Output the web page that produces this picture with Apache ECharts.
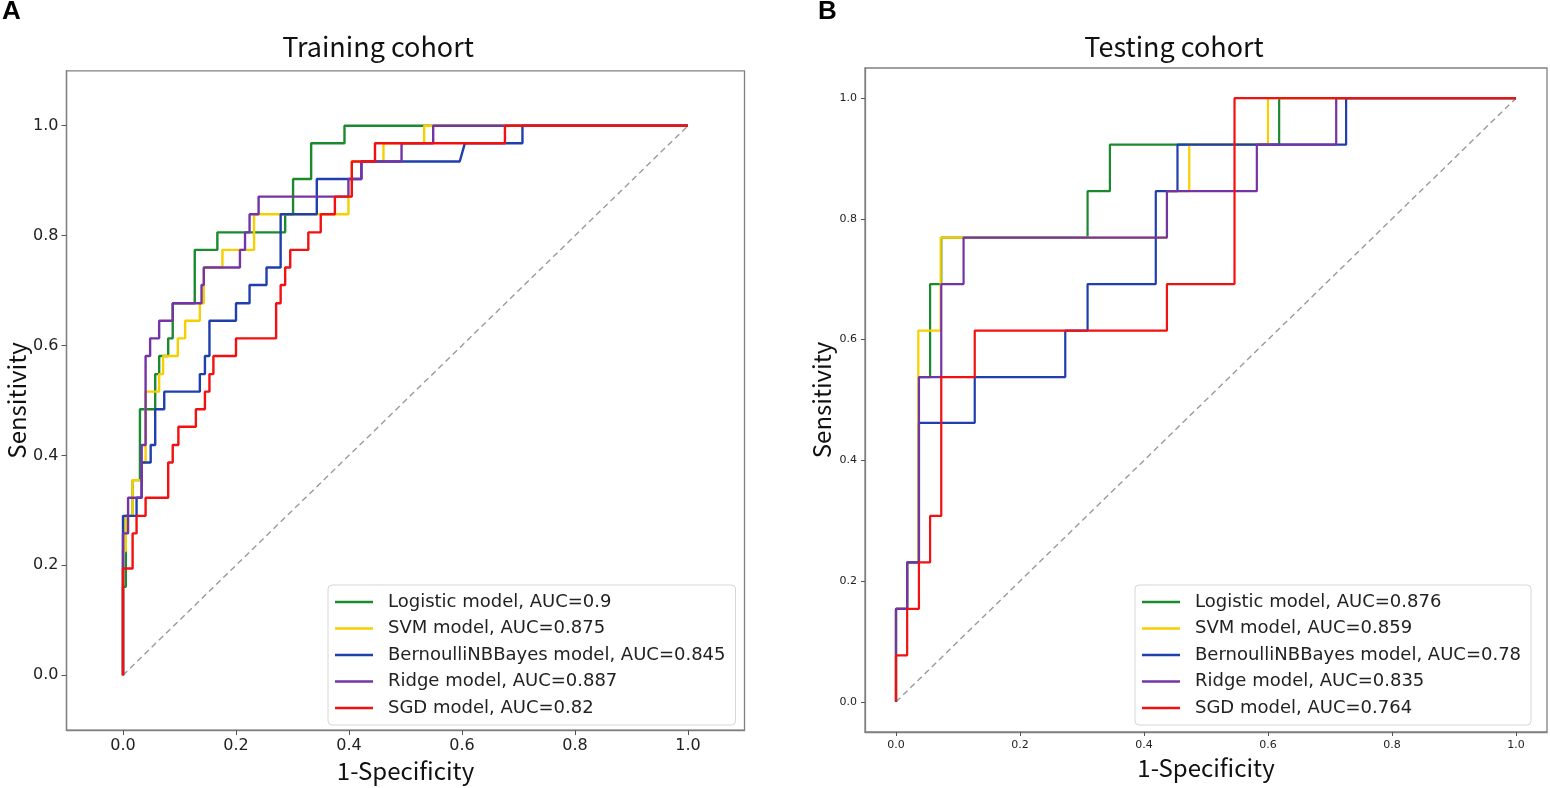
<!DOCTYPE html>
<html><head><meta charset="utf-8">
<script src="https://cdn.jsdelivr.net/npm/echarts@6/dist/echarts.min.js"></script>
<style>html,body{margin:0;padding:0;background:#fff}#c{width:1550px;height:788px}</style>
</head><body><div id="c"></div>
<script>
// ---------- data ----------
const tickValues = [0, 0.2, 0.4, 0.6, 0.8, 1.0];

const trainNames = ['Logistic model, AUC=0.9', 'SVM model, AUC=0.875', 'BernoulliNBBayes model, AUC=0.845', 'Ridge model, AUC=0.887', 'SGD model, AUC=0.82'];
const testNames = ['Logistic model, AUC=0.876', 'SVM model, AUC=0.859', 'BernoulliNBBayes model, AUC=0.78', 'Ridge model, AUC=0.835', 'SGD model, AUC=0.764'];

// Training cohort ROC vertices (1-specificity, sensitivity)
const trainLogisticFpr = [0,0,0.005,0.005,0.017,0.017,0.030,0.030,0.057,0.057,0.064,0.064,0.080,0.080,0.088,0.088,0.127,0.127,0.167,0.167,0.287,0.287,0.301,0.301,0.333,0.333,0.392,0.392,1.0];
const trainLogisticTpr = [0,0.161,0.161,0.290,0.290,0.355,0.355,0.484,0.484,0.548,0.548,0.581,0.581,0.613,0.613,0.677,0.677,0.774,0.774,0.806,0.806,0.839,0.839,0.903,0.903,0.968,0.968,1.0,1.0];

const trainSvmFpr = [0,0,0.005,0.005,0.017,0.017,0.033,0.033,0.040,0.040,0.064,0.064,0.071,0.071,0.097,0.097,0.110,0.110,0.136,0.136,0.143,0.143,0.176,0.176,0.232,0.232,0.399,0.399,0.405,0.405,0.461,0.461,0.533,0.533,1.0];
const trainSvmTpr = [0,0.226,0.226,0.290,0.290,0.355,0.355,0.387,0.387,0.516,0.516,0.548,0.548,0.581,0.581,0.613,0.613,0.645,0.645,0.677,0.677,0.742,0.742,0.774,0.774,0.839,0.839,0.871,0.871,0.935,0.935,0.968,0.968,1.0,1.0];

const trainBayesFpr = [0,0,0.024,0.024,0.033,0.033,0.049,0.049,0.057,0.057,0.073,0.073,0.136,0.136,0.145,0.145,0.153,0.153,0.200,0.200,0.224,0.224,0.254,0.254,0.279,0.279,0.343,0.343,0.422,0.422,0.596,0.605,0.707,0.707,1.0];
const trainBayesTpr = [0,0.290,0.290,0.323,0.323,0.387,0.387,0.419,0.419,0.484,0.484,0.516,0.516,0.548,0.548,0.581,0.581,0.645,0.645,0.677,0.677,0.710,0.710,0.742,0.742,0.839,0.839,0.903,0.903,0.935,0.935,0.968,0.968,1.0,1.0];

const trainRidgeFpr = [0,0,0.009,0.009,0.033,0.033,0.040,0.040,0.048,0.048,0.064,0.064,0.088,0.088,0.139,0.139,0.143,0.143,0.207,0.207,0.216,0.216,0.224,0.224,0.240,0.240,0.399,0.399,0.422,0.422,0.493,0.493,0.549,0.549,1.0];
const trainRidgeTpr = [0,0.258,0.258,0.323,0.323,0.419,0.419,0.581,0.581,0.613,0.613,0.645,0.645,0.677,0.677,0.710,0.710,0.742,0.742,0.774,0.774,0.806,0.806,0.839,0.839,0.871,0.871,0.903,0.903,0.935,0.935,0.968,0.968,1.0,1.0];

const trainSgdFpr = [0,0,0.017,0.017,0.024,0.024,0.040,0.040,0.080,0.080,0.088,0.088,0.098,0.098,0.129,0.129,0.145,0.145,0.153,0.153,0.160,0.160,0.200,0.200,0.271,0.271,0.279,0.279,0.287,0.287,0.296,0.296,0.328,0.328,0.350,0.350,0.375,0.375,0.405,0.405,0.446,0.446,0.676,0.676,1.0];
const trainSgdTpr = [0,0.194,0.194,0.258,0.258,0.290,0.290,0.323,0.323,0.387,0.387,0.419,0.419,0.452,0.452,0.484,0.484,0.516,0.516,0.548,0.548,0.581,0.581,0.613,0.613,0.677,0.677,0.710,0.710,0.742,0.742,0.774,0.774,0.806,0.806,0.839,0.839,0.871,0.871,0.935,0.935,0.968,0.968,1.0,1.0];

// Testing cohort ROC vertices
const testLogisticFpr = [0,0,0.018,0.018,0.037,0.037,0.055,0.055,0.073,0.073,0.309,0.309,0.345,0.345,0.618,0.618,1.0];
const testLogisticTpr = [0,0.154,0.154,0.231,0.231,0.538,0.538,0.692,0.692,0.769,0.769,0.846,0.846,0.923,0.923,1.0,1.0];

const testSvmFpr = [0,0,0.018,0.018,0.036,0.036,0.072,0.072,0.437,0.437,0.473,0.473,0.600,0.600,1.0];
const testSvmTpr = [0,0.154,0.154,0.231,0.231,0.615,0.615,0.769,0.769,0.846,0.846,0.923,0.923,1.0,1.0];

const testBayesFpr = [0,0,0.018,0.018,0.037,0.037,0.127,0.127,0.273,0.273,0.309,0.309,0.419,0.419,0.454,0.454,0.726,0.726,1.0];
const testBayesTpr = [0,0.154,0.154,0.231,0.231,0.462,0.462,0.538,0.538,0.615,0.615,0.692,0.692,0.846,0.846,0.923,0.923,1.0,1.0];

const testRidgeFpr = [0,0,0.018,0.018,0.037,0.037,0.073,0.073,0.109,0.109,0.437,0.437,0.582,0.582,0.710,0.710,1.0];
const testRidgeTpr = [0,0.154,0.154,0.231,0.231,0.538,0.538,0.692,0.692,0.769,0.769,0.846,0.846,0.923,0.923,1.0,1.0];

const testSgdFpr = [0,0,0.018,0.018,0.037,0.037,0.055,0.055,0.073,0.073,0.127,0.127,0.437,0.437,0.546,0.546,1.0];
const testSgdTpr = [0,0.077,0.077,0.154,0.154,0.231,0.231,0.308,0.308,0.538,0.538,0.615,0.615,0.692,0.692,1.0,1.0];

const chanceLine = [[0, 0], [1, 1]];

// ---------- style ----------
const modelColors = ['#1b8a2f', '#f7cf00', '#1f3fad', '#7434a6', '#f21010'];
const zip = (a, b) => a.map((v, i) => [v, b[i]]);

const trainCurves = [[trainLogisticFpr, trainLogisticTpr],[trainSvmFpr, trainSvmTpr],[trainBayesFpr, trainBayesTpr],[trainRidgeFpr, trainRidgeTpr],[trainSgdFpr, trainSgdTpr]];
const testCurves = [[testLogisticFpr, testLogisticTpr],[testSvmFpr, testSvmTpr],[testBayesFpr, testBayesTpr],[testRidgeFpr, testRidgeTpr],[testSgdFpr, testSgdTpr]];

function helper(idx) {
  return {
    type: 'line', xAxisIndex: idx, yAxisIndex: idx, data: chanceLine, symbol: 'none', silent: true,
    lineStyle: { color: '#9a9a9a', width: 1.4, type: [6, 4] }, z: 1
  };
}
function roc(names, curves, idx, width) {
  return curves.map((c, i) => ({
    type: 'line', name: names[i], xAxisIndex: idx, yAxisIndex: idx, data: zip(c[0], c[1]),
    symbol: 'none', silent: true, z: 2 + i,
    lineStyle: { color: modelColors[i], width: width }, itemStyle: { color: modelColors[i], borderWidth: 0 }
  }));
}
function xAx(idx, min, max, fs, tl) {
  return {
    type: 'value', gridIndex: idx, min: min, max: max,
    axisLine: { show: true, onZero: false, lineStyle: { color: '#808080', width: 1.3 } },
    axisTick: { show: true, customValues: tickValues, length: tl, lineStyle: { color: '#555' } },
    axisLabel: { customValues: tickValues, formatter: v => v.toFixed(1), fontSize: fs, color: '#222', fontFamily: 'DejaVu Sans', margin: 8 },
    splitLine: { show: false },
    name: '1-Specificity', nameLocation: 'middle', nameGap: fs > 12 ? 26 : 24,
    nameTextStyle: { fontSize: 24, fontFamily: 'Noto Sans CJK SC', color: '#111' }
  };
}
function yAx(idx, min, max, fs, tl, gap) {
  return {
    type: 'value', gridIndex: idx, min: min, max: max,
    axisLine: { show: true, onZero: false, lineStyle: { color: '#808080', width: 1.3 } },
    axisTick: { show: true, customValues: tickValues, length: tl, lineStyle: { color: '#555' } },
    axisLabel: { customValues: tickValues, formatter: v => v.toFixed(1), fontSize: fs, color: '#222', fontFamily: 'DejaVu Sans', margin: 8 },
    splitLine: { show: false },
    name: 'Sensitivity', nameLocation: 'middle', nameGap: gap,
    nameTextStyle: { fontSize: 24, fontFamily: 'Noto Sans CJK SC', color: '#111' }
  };
}
function leg(names, left) {
  return {
    data: names, left: left, top: 585, orient: 'vertical', selectedMode: false,
    icon: 'rect', itemWidth: 38, itemHeight: 2.5, itemGap: 6.5,
    itemStyle: { borderWidth: 0 },
    padding: [7, 10, 7, 7], backgroundColor: '#ffffff', borderColor: '#d6d6d6', borderWidth: 1, borderRadius: 4,
    textStyle: { fontSize: 18, fontFamily: 'DejaVu Sans', color: '#222', lineHeight: 20, padding: [0, 0, 0, 10] }
  };
}

const chart = echarts.init(document.getElementById('c'), null, { renderer: 'canvas' });
chart.setOption({
  animation: false,
  backgroundColor: '#ffffff',
  grid: [
    { left: 66.5, top: 70.8, width: 678, height: 662.4, show: true, borderColor: '#808080', borderWidth: 1.3, backgroundColor: 'rgba(0,0,0,0)' },
    { left: 865, top: 68, width: 682, height: 664, show: true, borderColor: '#808080', borderWidth: 1.3, backgroundColor: 'rgba(0,0,0,0)' }
  ],
  xAxis: [xAx(0, -0.1, 1.1, 16, 5), xAx(1, -0.05, 1.05, 11, 4)],
  yAxis: [yAx(0, -0.1, 1.1, 16, 5, 38), yAx(1, -0.05, 1.05, 11, 4, 31)],
  legend: [leg(trainNames, 328), leg(testNames, 1135)],
  graphic: [
    { type: 'text', x: 2, y: 12, style: { text: 'A', fontSize: 26, fontWeight: 'bold', fontFamily: 'Liberation Sans', fill: '#000', textAlign: 'left', textVerticalAlign: 'middle' } },
    { type: 'text', x: 818, y: 12, style: { text: 'B', fontSize: 26, fontWeight: 'bold', fontFamily: 'Liberation Sans', fill: '#000', textAlign: 'left', textVerticalAlign: 'middle' } },
    { type: 'text', x: 378, y: 47, style: { text: 'Training cohort', fontSize: 27, fontFamily: 'Noto Sans CJK SC', fill: '#111', textAlign: 'center', textVerticalAlign: 'middle' } },
    { type: 'text', x: 1174, y: 47, style: { text: 'Testing cohort', fontSize: 27, fontFamily: 'Noto Sans CJK SC', fill: '#111', textAlign: 'center', textVerticalAlign: 'middle' } }
  ],
  series: [helper(0)].concat(roc(trainNames, trainCurves, 0, 2.4), [helper(1)], roc(testNames, testCurves, 1, 2.2))
});
</script></body></html>
